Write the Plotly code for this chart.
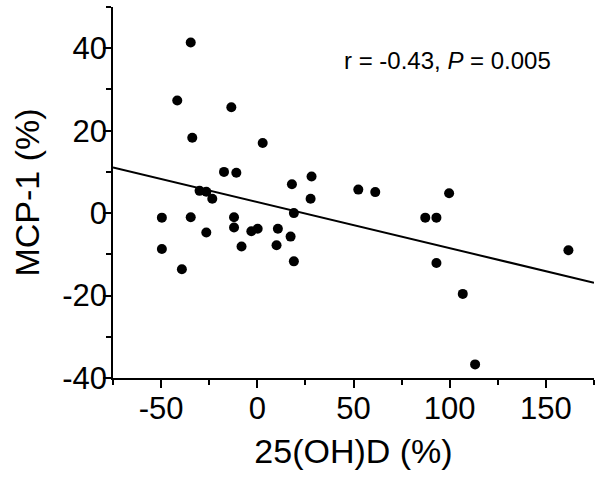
import plotly.graph_objects as go

# Data
vitd_change = [-34.6, -41.6, -13.5, -33.8, 2.8, -17.3, -10.9, 28.2, 18.0, 52.5,
               61.3, 99.7, -30.0, -26.5, -23.4, 27.7, 19.0, -49.6, -34.6, -12.1,
               -12.1, -26.5, -3.1, 0.2, 10.7, 17.3, 10.0, -8.2, -49.6, 19.0,
               -39.2, 87.3, 93.1, 93.1, 161.7, 106.8, 113.2]
mcp1_change = [41.4, 27.3, 25.7, 18.3, 17.0, 10.0, 9.8, 8.9, 7.0, 5.7,
               5.1, 4.8, 5.4, 5.2, 3.5, 3.5, 0.0, -1.1, -1.0, -1.0,
               -3.5, -4.7, -4.4, -3.8, -3.8, -5.7, -7.8, -8.1, -8.7, -11.7,
               -13.6, -1.1, -1.1, -12.1, -9.0, -19.6, -36.7]
fit_x = [-75, 175]
fit_y = [11.1, -16.9]

x_ticks = [-50, 0, 50, 100, 150]
x_tick_labels = ["-50", "0", "50", "100", "150"]
y_ticks = [-40, -20, 0, 20, 40]
y_tick_labels = ["-40", "-20", "0", "20", "40"]
stats_label = "r = -0.43, <i>P</i> = 0.005"

FONT = "Liberation Sans, Arial, sans-serif"

fig = go.Figure()
fig.add_trace(go.Scatter(x=fit_x, y=fit_y, mode="lines",
                         line=dict(color="black", width=2), hoverinfo="skip"))
fig.add_trace(go.Scatter(x=vitd_change, y=mcp1_change, mode="markers",
                         marker=dict(color="black", size=10)))

fig.add_annotation(x=99, y=37, xref="x", yref="y", text=stats_label,
                   showarrow=False, xanchor="center", yanchor="middle",
                   font=dict(family=FONT, size=24, color="black"))

axis_common = dict(showgrid=False, zeroline=False, showline=True,
                   linecolor="black", linewidth=1.5, ticks="outside",
                   ticklen=8, tickwidth=1.5, tickcolor="black",
                   tickfont=dict(family=FONT, size=31, color="black"),
                   mirror=False, automargin=False)

fig.update_xaxes(range=[-75, 175], tickvals=x_ticks, ticktext=x_tick_labels,
                 ticklabelstandoff=-6,
                 minor=dict(dtick=25, tick0=0, ticks="outside", ticklen=5,
                            tickwidth=1.5, tickcolor="black"),
                 title=dict(text="25(OH)D (%)", standoff=14,
                            font=dict(family=FONT, size=34, color="black")),
                 **axis_common)
fig.update_yaxes(range=[-40, 50], tickvals=y_ticks, ticktext=y_tick_labels,
                 ticklabelstandoff=-10,
                 minor=dict(dtick=10, tick0=0, ticks="outside", ticklen=5,
                            tickwidth=1.5, tickcolor="black"),
                 title=dict(text="MCP-1 (%)", standoff=12,
                            font=dict(family=FONT, size=34, color="black")),
                 **axis_common)

fig.update_layout(width=602, height=480, showlegend=False,
                  plot_bgcolor="white", paper_bgcolor="white",
                  margin=dict(l=113, r=8, t=7, b=102))

fig.write_html("out.html", config={"displayModeBar": False},
               post_script="document.body.style.margin='0';")
